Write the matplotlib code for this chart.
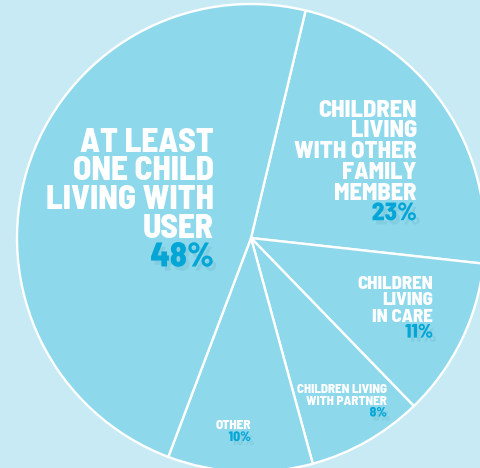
import matplotlib
matplotlib.use("Agg")
import matplotlib.pyplot as plt
import matplotlib.patheffects as pe

# ---- data ----
categories = ["CHILDREN LIVING WITH OTHER FAMILY MEMBER", "CHILDREN LIVING IN CARE",
              "CHILDREN LIVING WITH PARTNER", "OTHER", "AT LEAST ONE CHILD LIVING WITH USER"]
values = [23, 11, 8, 10, 48]
label_lines = [
    ["CHILDREN", "LIVING", "WITH OTHER", "FAMILY", "MEMBER"],
    ["CHILDREN", "LIVING", "IN CARE"],
    ["CHILDREN LIVING", "WITH PARTNER"],
    ["OTHER"],
    ["AT LEAST", "ONE CHILD", "LIVING WITH", "USER"],
]
pct_labels = ["23%", "11%", "8%", "10%", "48%"]

# ---- layout / style ----
W, H = 481, 468
BG = "#C8EAF4"
FILL = "#8ED8EC"
PCT = "#04A6D6"
FONT = ["Barlow Semi Condensed", "DejaVu Sans"]
# (right x px, first baseline y px, line step px, font size pt)
text_layout = [
    (417, 116.7, 20.7, 17.6),
    (433, 289.3, 16.1, 13.6),
    (387, 393.3, 11.6, 9.4),
    (251, 429.0, 12.0, 9.6),
    (214, 151.7, 28.7, 24.0),
]

fig = plt.figure(figsize=(W / 100, H / 100), dpi=100)
fig.patch.set_facecolor(BG)
ax = fig.add_axes([0, 0, 1, 1])
ax.set_facecolor(BG)

cx, cy, r = 251, H - 238, 234
ax.pie(values, startangle=76.5, counterclock=False, center=(cx, cy), radius=r,
       colors=[FILL] * len(values),
       wedgeprops=dict(edgecolor="white", linewidth=1.7))
ax.set_xlim(0, W)
ax.set_ylim(0, H)
ax.set_aspect("auto")
ax.axis("off")

for lines, pct, (xr, y0, step, fs) in zip(label_lines, pct_labels, text_layout):
    for i, line in enumerate(lines):
        ax.text(xr, H - (y0 + i * step), line, ha="right", va="baseline",
                color="white", fontsize=fs, fontweight=800, family=FONT)
    ax.text(xr, H - (y0 + len(lines) * step), pct, ha="right", va="baseline",
            color=PCT, fontsize=fs * 1.03, fontweight=800, family=FONT,
            path_effects=[pe.SimplePatchShadow(offset=(2.5, -3), shadow_rgbFace="#2a6f86", alpha=0.1),
                          pe.Normal()])

fig.savefig("out.png", dpi=100, facecolor=BG)
